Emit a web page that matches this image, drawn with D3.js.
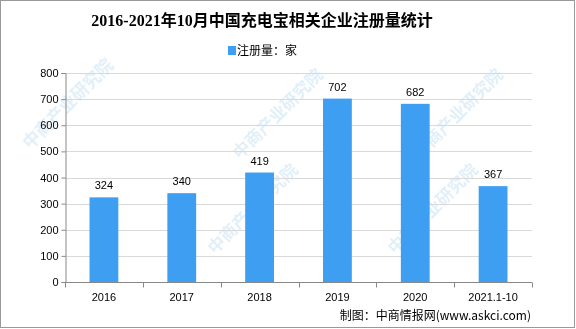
<!DOCTYPE html>
<html>
<head>
<meta charset="utf-8">
<script src="https://cdn.jsdelivr.net/npm/d3@7"></script>
<style>
  body { margin: 0; background: #fff; }
  svg { display: block; }
</style>
</head>
<body>
<div id="chart"></div>
<script>
// Data
const years = ['2016', '2017', '2018', '2019', '2020', '2021.1-10'];
const counts = [324, 340, 419, 702, 682, 367];
const yTicks = [0, 100, 200, 300, 400, 500, 600, 700, 800];

const W = 576, H = 329;
const margin = { top: 73, right: 44, bottom: 47, left: 65 };
const width = W - margin.left - margin.right;
const height = H - margin.top - margin.bottom;
const barColor = '#3d9ef2';

const root = d3.select('#chart')
  .append('svg')
  .attr('width', W)
  .attr('height', H);

root.append('rect')
  .attr('width', W)
  .attr('height', H)
  .attr('fill', '#fff');

// watermark
const wm = root.append('g').attr('opacity', 0.2);
[[30, 150], [215, 255], [395, 255], [240, 160], [420, 160]].forEach(([x, y]) => {
  wm.append('text')
    .attr('transform', `translate(${x},${y}) rotate(-45)`)
    .attr('font-family', 'Noto Sans CJK SC')
    .attr('font-size', '17px')
    .attr('font-weight', 'bold')
    .attr('fill', '#6aaee0')
    .text('中商产业研究院');
});

// title
root.append('text')
  .attr('x', 262)
  .attr('y', 26)
  .attr('text-anchor', 'middle')
  .attr('font-family', '"Liberation Serif", "Noto Sans CJK SC"')
  .attr('font-weight', 'bold')
  .attr('font-size', '16px')
  .attr('fill', '#000')
  .text('2016-2021年10月中国充电宝相关企业注册量统计');

// legend
root.append('rect')
  .attr('x', 228)
  .attr('y', 46)
  .attr('width', 8)
  .attr('height', 9)
  .attr('fill', barColor);
root.append('text')
  .attr('x', 237)
  .attr('y', 55)
  .attr('font-family', '"Noto Sans CJK SC"')
  .attr('font-size', '12px')
  .attr('fill', '#000')
  .text('注册量：家');

const svg = root.append('g')
  .attr('transform', `translate(${margin.left},${margin.top})`);

const x = d3.scaleBand().domain(years).range([0, width]).paddingInner(0.63).paddingOuter(0.315);
const xb = d3.scaleBand().domain(years).range([0, width]);
const y = d3.scaleLinear().domain([0, 800]).range([height, 0]);

// gridlines
svg.selectAll('.grid')
  .data(yTicks.slice(1))
  .enter()
  .append('line')
  .attr('x1', 0)
  .attr('x2', width)
  .attr('y1', d => Math.round(y(d)) + 0.5)
  .attr('y2', d => Math.round(y(d)) + 0.5)
  .attr('stroke', '#d9d9d9');

// bars
svg.selectAll('.bar')
  .data(counts)
  .enter()
  .append('rect')
  .attr('x', (d, i) => x(years[i]))
  .attr('y', d => y(d))
  .attr('width', x.bandwidth())
  .attr('height', d => height - y(d))
  .attr('fill', barColor);

// value labels
svg.selectAll('.val')
  .data(counts)
  .enter()
  .append('text')
  .attr('x', (d, i) => x(years[i]) + x.bandwidth() / 2)
  .attr('y', d => y(d) - 8)
  .attr('text-anchor', 'middle')
  .attr('font-family', '"Liberation Sans", Arial, sans-serif')
  .attr('font-size', '11px')
  .attr('fill', '#000')
  .text(d => d);

// y axis
const yAxis = svg.append('g')
  .call(d3.axisLeft(y).tickValues(yTicks).tickSize(4).tickPadding(3))
  .attr('transform', 'translate(0.5,0)');
yAxis.select('.domain').attr('stroke', '#888');
yAxis.selectAll('line').attr('stroke', '#888');
yAxis.selectAll('text')
  .attr('font-family', '"Liberation Sans", Arial, sans-serif')
  .attr('font-size', '11px')
  .attr('fill', '#000');

// x axis
const xAxis = svg.append('g')
  .attr('transform', `translate(0,${Math.round(height) + 0.5})`);
xAxis.append('line')
  .attr('x1', 0)
  .attr('x2', width)
  .attr('stroke', '#888');
xAxis.selectAll('.tk')
  .data(years.concat(['end']))
  .enter()
  .append('line')
  .attr('x1', (d, i) => Math.round(i * xb.bandwidth()) + 0.5)
  .attr('x2', (d, i) => Math.round(i * xb.bandwidth()) + 0.5)
  .attr('y1', 0)
  .attr('y2', 5)
  .attr('stroke', '#888');
xAxis.selectAll('.lbl')
  .data(years)
  .enter()
  .append('text')
  .attr('x', d => xb(d) + xb.bandwidth() / 2)
  .attr('y', 18)
  .attr('text-anchor', 'middle')
  .attr('font-family', '"Liberation Sans", Arial, sans-serif')
  .attr('font-size', '11px')
  .attr('fill', '#000')
  .text(d => d);

// source
root.append('text')
  .attr('x', 531)
  .attr('y', 320)
  .attr('text-anchor', 'end')
  .attr('font-family', '"Noto Sans CJK SC"')
  .attr('font-size', '12px')
  .attr('fill', '#000')
  .text('制图：中商情报网(www.askci.com)');

// border
root.append('rect')
  .attr('x', 0.5)
  .attr('y', 0.5)
  .attr('width', W - 2)
  .attr('height', H - 2)
  .attr('fill', 'none')
  .attr('stroke', '#999');
</script>
</body>
</html>
